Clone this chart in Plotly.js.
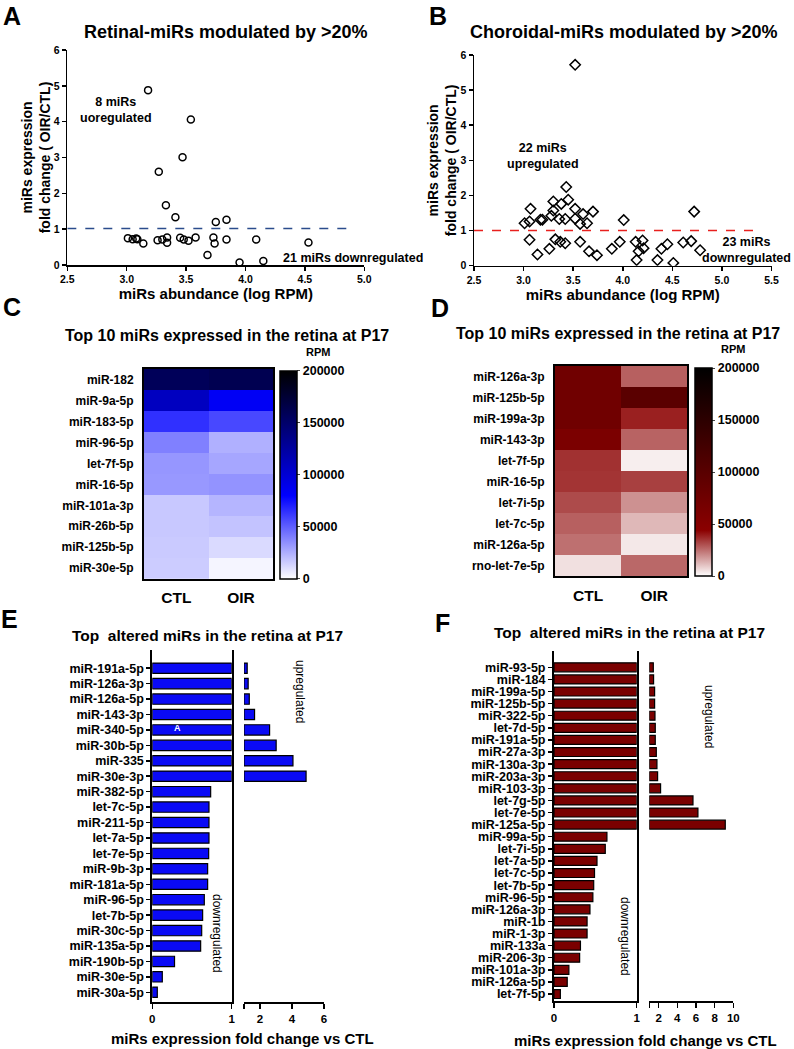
<!DOCTYPE html>
<html><head><meta charset="utf-8">
<script src="https://cdn.plot.ly/plotly-3.0.1.min.js"></script>
<style>html,body{margin:0;padding:0;background:#fff}#chart{width:794px;height:1049px}</style>
</head><body><div id="chart"></div>
<script>
// ---------- DATA ----------
// Panel A: retina scatter (log RPM abundance vs fold change OIR/CTL)
const retinaAbundance = [3.18,3.54,3.47,3.27,3.33,3.41,3.75,3.84,
  3.01,3.05,3.08,3.09,3.14,3.26,3.30,3.34,3.34,3.45,3.48,3.52,3.58,3.73,3.74,3.68,3.84,3.95,4.09,4.15,4.53];
const retinaFold = [4.88,4.06,3.01,2.60,1.67,1.33,1.20,1.26,
  0.75,0.72,0.74,0.72,0.60,0.69,0.71,0.77,0.62,0.76,0.71,0.68,0.77,0.77,0.60,0.28,0.71,0.07,0.71,0.11,0.63];
// Panel B: choroid scatter
const choroidAbundance = [3.52,3.43,3.45,3.30,3.38,3.07,3.30,3.52,3.70,3.60,3.28,3.17,3.19,3.36,3.42,3.52,3.57,3.64,4.01,3.01,3.06,4.72,
  3.06,3.14,3.26,3.32,3.37,3.42,3.57,3.66,3.74,3.89,3.97,4.13,4.20,4.16,4.21,4.14,4.35,4.39,4.45,4.51,4.61,4.69,4.78];
const choroidFold = [5.72,2.24,1.88,1.83,1.76,1.62,1.57,1.62,1.54,1.47,1.42,1.31,1.31,1.33,1.33,1.34,1.19,1.21,1.30,1.21,1.26,1.54,
  0.74,0.32,0.48,0.75,0.68,0.64,0.68,0.41,0.30,0.48,0.68,0.68,0.72,0.41,0.50,0.16,0.16,0.48,0.61,0.08,0.66,0.70,0.44];
// Panel C: heatmap (RPM)
const heatCMirs = ['miR-182','miR-9a-5p','miR-183-5p','miR-96-5p','let-7f-5p','miR-16-5p','miR-101a-3p','miR-26b-5p','miR-125b-5p','miR-30e-5p'];
const heatCCtl = [158000,109600,65000,40000,33000,32300,17300,17300,16600,16000];
const heatCOir = [162000,84800,57400,24800,28000,33900,23200,18800,11600,3100];
// Panel D: heatmap (RPM)
const heatDMirs = ['miR-126a-3p','miR-125b-5p','miR-199a-3p','miR-143-3p','let-7f-5p','miR-16-5p','let-7i-5p','let-7c-5p','miR-126a-5p','rno-let-7e-5p'];
const heatDCtl = [74000,74000,74000,62000,35600,35000,31000,27400,24700,5400];
const heatDOir = [27400,99000,38500,27000,3000,33000,19000,12300,4000,26000];
const heatCols = ['CTL','OIR'];
const rpmTicks = [0, 50000, 100000, 150000, 200000];
// Panel E: top altered (fold change vs CTL)
const barEMirs = ['miR-191a-5p','miR-126a-3p','miR-126a-5p','miR-143-3p','miR-340-5p','miR-30b-5p','miR-335','miR-30e-3p',
  'miR-382-5p','let-7c-5p','miR-211-5p','let-7a-5p','let-7e-5p','miR-9b-3p','miR-181a-5p','miR-96-5p','let-7b-5p','miR-30c-5p','miR-135a-5p','miR-190b-5p','miR-30e-5p','miR-30a-5p'];
const barEFold = [1.20,1.26,1.33,1.66,2.60,3.01,4.06,4.88,
  0.735,0.714,0.714,0.714,0.71,0.697,0.697,0.655,0.634,0.622,0.609,0.28,0.126,0.063];
// Panel F
const barFMirs = ['miR-93-5p','miR-184','miR-199a-5p','miR-125b-5p','miR-322-5p','let-7d-5p','miR-191a-5p','miR-27a-3p','miR-130a-3p','miR-203a-3p','miR-103-3p','let-7g-5p','let-7e-5p','miR-125a-5p',
  'miR-99a-5p','let-7i-5p','let-7a-5p','let-7c-5p','let-7b-5p','miR-96-5p','miR-126a-3p','miR-1b','miR-1-3p','miR-133a','miR-206-3p','miR-101a-3p','miR-126a-5p','let-7f-5p'];
const barFFold = [1.43,1.46,1.57,1.57,1.61,1.64,1.64,1.75,1.82,1.89,2.21,5.68,6.21,9.14,
  0.64,0.62,0.52,0.49,0.48,0.47,0.435,0.40,0.40,0.32,0.31,0.18,0.16,0.077];

// ---------- HELPERS ----------
const W = 794, H = 1049;
const px = v => v / W, py = v => 1 - v / H;
const FAM = 'Liberation Sans, Arial, sans-serif';
const fb = (size, color) => ({family: FAM, size: size, color: color || '#000', weight: 'bold'});
const fr = (size) => ({family: FAM, size: size, color: '#000'});

const upE = barEMirs.filter((m, i) => barEFold[i] > 1);
const upEv = barEFold.filter(v => v > 1);
const upF = barFMirs.filter((m, i) => barFFold[i] > 1);
const upFv = barFFold.filter(v => v > 1);

const cbar = (x, yb, yt) => ({x: px(x), xanchor: 'left', y: py(yb), yanchor: 'bottom', len: (yb - yt) / H, lenmode: 'fraction',
  thickness: 17, thicknessmode: 'pixels', xpad: 0, ypad: 0, outlinewidth: 1.5, outlinecolor: '#000',
  tickvals: rpmTicks, tickformat: 'd', ticks: 'outside', ticklen: 3, tickfont: fb(12.5)});

const traces = [
  {type: 'scatter', mode: 'markers', x: retinaAbundance, y: retinaFold, xaxis: 'x', yaxis: 'y',
   marker: {symbol: 'circle-open', size: 7, color: '#000', line: {width: 1.5, color: '#000'}}, hoverinfo: 'x+y'},
  {type: 'scatter', mode: 'markers', x: choroidAbundance, y: choroidFold, xaxis: 'x2', yaxis: 'y2',
   marker: {symbol: 'diamond-open', size: 8, color: '#000', line: {width: 1.5, color: '#000'}}, hoverinfo: 'x+y'},
  {type: 'heatmap', x: heatCols, y: heatCMirs, z: heatCMirs.map((m, i) => [heatCCtl[i], heatCOir[i]]),
   xaxis: 'x3', yaxis: 'y3', zmin: 0, zmax: 200000,
   colorscale: [[0, '#ffffff'], [0.4, '#0000ff'], [1, '#000000']],
   colorbar: cbar(280, 578.7, 370.5)},
  {type: 'heatmap', x: heatCols, y: heatDMirs, z: heatDMirs.map((m, i) => [heatDCtl[i], heatDOir[i]]),
   xaxis: 'x4', yaxis: 'y4', zmin: 0, zmax: 200000,
   colorscale: [[0, '#ffffff'], [0.22, '#8b0000'], [1, '#000000']],
   colorbar: cbar(695, 576, 367.7)},
  {type: 'bar', orientation: 'h', y: barEMirs, x: barEFold.map(v => Math.min(v, 1)), xaxis: 'x5', yaxis: 'y5', width: 0.67,
   marker: {color: '#0a0af5', line: {color: '#000', width: 1.2}}},
  {type: 'bar', orientation: 'h', y: upE, x: upEv.map(v => v - 1), base: 1, xaxis: 'x6', yaxis: 'y5', width: 0.67,
   marker: {color: '#0a0af5', line: {color: '#000', width: 1.2}}},
  {type: 'bar', orientation: 'h', y: barFMirs, x: barFFold.map(v => Math.min(v, 1)), xaxis: 'x7', yaxis: 'y6', width: 0.74,
   marker: {color: '#7a0000', line: {color: '#000', width: 1.2}}},
  {type: 'bar', orientation: 'h', y: upF, x: upFv.map(v => v - 1), base: 1, xaxis: 'x8', yaxis: 'y6', width: 0.74,
   marker: {color: '#7a0000', line: {color: '#000', width: 1.2}}}
];

const axBase = {showgrid: false, zeroline: false, showline: true, linecolor: '#000', linewidth: 1.5,
  ticks: 'outside', ticklen: 4, tickwidth: 1.5, tickcolor: '#000', fixedrange: true};

const layout = {
  width: W, height: H, margin: {l: 0, r: 0, t: 0, b: 0}, paper_bgcolor: '#fff', plot_bgcolor: 'rgba(0,0,0,0)',
  showlegend: false, font: {family: FAM, color: '#000'},
  // A
  xaxis: Object.assign({}, axBase, {domain: [px(67.3), px(364.3)], anchor: 'y', range: [2.5, 5.0], tick0: 2.5, dtick: 0.5,
    tickformat: '.1f', tickfont: fb(10.5), title: {text: 'miRs abundance (log RPM)', font: fb(15), standoff: 4}}),
  yaxis: Object.assign({}, axBase, {domain: [py(265), py(50)], anchor: 'x', range: [0, 6], dtick: 1, tickfont: fb(10.5),
    title: {text: 'miRs expression<br>fold change ( OIR/CTL)', font: fb(14), standoff: 0}}),
  // B
  xaxis2: Object.assign({}, axBase, {domain: [px(474), px(771.5)], anchor: 'y2', range: [2.5, 5.5], tick0: 2.5, dtick: 0.5,
    tickformat: '.1f', tickfont: fb(10.5), title: {text: 'miRs abundance (log RPM)', font: fb(15), standoff: 4}}),
  yaxis2: Object.assign({}, axBase, {domain: [py(265.7), py(55)], anchor: 'x2', range: [0, 6], dtick: 1, tickfont: fb(10.5),
    title: {text: 'miRs expression<br>fold change ( OIR/CTL)', font: fb(14), standoff: 0}}),
  // C
  xaxis3: {domain: [px(144), px(273.3)], anchor: 'y3', showgrid: false, zeroline: false, showline: true, mirror: true,
    linecolor: '#000', linewidth: 2, ticks: '', tickfont: fb(15.5), ticklabelstandoff: 4, fixedrange: true},
  yaxis3: {domain: [py(578.7), py(369)], anchor: 'x3', autorange: 'reversed', showgrid: false, zeroline: false, showline: true,
    mirror: true, linecolor: '#000', linewidth: 2, ticks: '', tickfont: fb(12), ticklabelstandoff: 6, fixedrange: true},
  // D
  xaxis4: {domain: [px(555), px(687.3)], anchor: 'y4', showgrid: false, zeroline: false, showline: true, mirror: true,
    linecolor: '#000', linewidth: 2, ticks: '', tickfont: fb(15.5), ticklabelstandoff: 4, fixedrange: true},
  yaxis4: {domain: [py(576), py(366)], anchor: 'x4', autorange: 'reversed', showgrid: false, zeroline: false, showline: true,
    mirror: true, linecolor: '#000', linewidth: 2, ticks: '', tickfont: fb(12), ticklabelstandoff: 6, fixedrange: true},
  // E
  xaxis5: Object.assign({}, axBase, {domain: [px(152.3), px(231.7)], anchor: 'y5', range: [0, 1], tickvals: [0, 1],
    linewidth: 2, ticklen: 5, tickfont: fb(11.5)}),
  xaxis6: Object.assign({}, axBase, {domain: [px(244), px(324)], anchor: 'y5', range: [1, 6], tickvals: [1, 2, 4, 6],
    ticktext: ['', '2', '4', '6'], linewidth: 2, ticklen: 5, tickfont: fb(11.5)}),
  yaxis5: Object.assign({}, axBase, {domain: [py(1001.7), py(650)], anchor: 'x5', range: [21.61, -1.18], type: 'category',
    tickmode: 'array', tickvals: barEMirs, mirror: true, linewidth: 2, ticklen: 4, tickfont: fb(12.5)}),
  // F
  xaxis7: Object.assign({}, axBase, {domain: [px(554), px(636.7)], anchor: 'y6', range: [0, 1], tickvals: [0, 1],
    linewidth: 2, ticklen: 5, tickfont: fb(11.5)}),
  xaxis8: Object.assign({}, axBase, {domain: [px(649.3), px(733.3)], anchor: 'y6', range: [1, 10], tickvals: [1, 2, 4, 6, 8, 10],
    ticktext: ['', '2', '4', '6', '8', '10'], linewidth: 2, ticklen: 5, tickfont: fb(11.5)}),
  yaxis6: Object.assign({}, axBase, {domain: [py(1000.7), py(651)], anchor: 'x7', range: [27.55, -1.35], type: 'category',
    tickmode: 'array', tickvals: barFMirs, mirror: true, linewidth: 2, ticklen: 4, tickfont: fb(12.5)}),
  shapes: [
    {type: 'line', xref: 'x', yref: 'y', x0: 2.5, x1: 4.89, y0: 1.02, y1: 1.02, line: {color: '#2b4c8c', width: 1.5, dash: 'dash'}},
    {type: 'line', xref: 'x2', yref: 'y2', x0: 2.5, x1: 5.35, y0: 1.0, y1: 1.0, line: {color: '#e8201e', width: 1.5, dash: 'dash'}}
  ],
  annotations: []
};

const ann = (text, x, y, font, extra) => layout.annotations.push(Object.assign({
  text: text, xref: 'paper', yref: 'paper', x: px(x), y: py(y), showarrow: false, font: font,
  xanchor: 'center', yanchor: 'middle'}, extra || {}));

// Panel letters
ann('A', 12, 16, fb(25));
ann('B', 438, 16, fb(25));
ann('C', 12, 307, fb(25));
ann('D', 440, 308, fb(25));
ann('E', 9, 619, fb(25));
ann('F', 442, 623, fb(25));
// Titles
ann('Retinal-miRs modulated by >20%', 226, 32, fb(18));
ann('Choroidal-miRs modulated by >20%', 624, 32, fb(18));
ann('Top 10 miRs expressed in the retina at P17', 227, 335, fb(16));
ann('Top 10 miRs expressed in the retina at P17', 618, 333, fb(16));
ann('Top  altered miRs in the retina at P17', 207, 635, fb(15.5));
ann('Top  altered miRs in the retina at P17', 629, 632, fb(15.5));
// colour bar units
ann('RPM', 318, 352, fb(11));
ann('RPM', 733, 349, fb(11));
// Scatter notes
ann('8 miRs<br>uoregulated', 116, 110, fb(12.5));
ann('21 miRs downregulated', 425, 258, fb(12.5), {xanchor: 'right'});
ann('22 miRs<br>upregulated', 543, 156, fb(12.5));
ann('23 miRs<br>downregulated', 793, 250, fb(12.5), {xanchor: 'right'});
// Bar notes
ann('upregulated', 300, 691, fr(12), {textangle: 90});
ann('downregulated', 217, 933, fr(12), {textangle: 90});
ann('upregulated', 709, 716, fr(12), {textangle: 90});
ann('downregulated', 625, 936, fr(12), {textangle: 90});
ann('A', 177, 728, fb(9, '#fff'));
ann('miRs expression fold change vs CTL', 243, 1038, fb(15));
ann('miRs expression fold change vs CTL', 645, 1040, fb(15));

Plotly.newPlot('chart', traces, layout, {staticPlot: true, displayModeBar: false});
</script></body></html>
